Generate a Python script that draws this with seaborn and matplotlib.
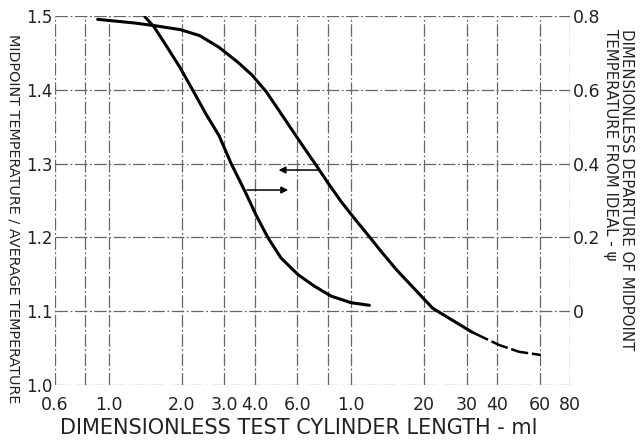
import matplotlib
matplotlib.use("Agg")
import matplotlib.pyplot as plt
import pandas as pd
import seaborn as sns

# midpoint temperature / average temperature (left axis)
ratio_x = [0.90, 1.28, 1.54, 1.97, 2.37, 2.85, 3.42, 3.9, 4.45, 4.99, 5.64, 6.41,
           7.2, 8.02, 9.09, 10.3, 11.71, 13.3, 15.4, 21.7, 31.6]
ratio_y = [1.4955, 1.4905, 1.487, 1.4816, 1.4735, 1.4576, 1.437, 1.420, 1.398,
           1.374, 1.348, 1.321, 1.297, 1.274, 1.2486, 1.226, 1.2036, 1.181,
           1.156, 1.104, 1.0715]
# faint tail of the same curve
tail_x = [31.6, 40.8, 49.3, 60.5]
tail_y = [1.0715, 1.0542, 1.045, 1.0407]

# dimensionless departure of midpoint temperature from ideal (right axis)
psi_x = [1.41, 1.54, 1.74, 1.97, 2.23, 2.52, 2.85, 3.2, 3.69, 4.05, 4.53, 5.14,
         6.04, 7.05, 8.26, 10.0, 11.9]
psi_y = [0.798, 0.770, 0.716, 0.660, 0.597, 0.534, 0.476, 0.400, 0.318, 0.261,
         0.200, 0.144, 0.099, 0.068, 0.041, 0.023, 0.016]

x_ticks = [0.6, 0.8, 1, 2, 3, 4, 6, 8, 10, 20, 30, 40, 60, 80]
x_labels = ["0.6", "", "1.0", "2.0", "3.0", "4.0", "6.0", "", "1.0",
            "20", "30", "40", "60", "80"]
left_ticks = [1.0, 1.1, 1.2, 1.3, 1.4, 1.5]
right_ticks = [0, 0.2, 0.4, 0.6, 0.8]
right_labels = ["0", "0.2", "0.4", "0.6", "0.8"]

sns.set_theme(style="white")
plt.rcParams["font.family"] = ["DejaVu Sans"]

fig = plt.figure(figsize=(6.43, 4.40), dpi=100)
ax = fig.add_axes([0.0855, 0.125, 0.801, 0.8386])
ax2 = ax.twinx()

ratio = pd.DataFrame({"x": ratio_x, "y": ratio_y})
tail = pd.DataFrame({"x": tail_x, "y": tail_y})
psi = pd.DataFrame({"x": psi_x, "y": psi_y})

line_kw = dict(color="black", sort=False, solid_joinstyle="round",
               solid_capstyle="round")
sns.lineplot(data=ratio, x="x", y="y", ax=ax, lw=2.2, **line_kw)
sns.lineplot(data=tail, x="x", y="y", ax=ax, color="black", lw=1.8, sort=False,
             linestyle=(0, (7, 1.5)))
sns.lineplot(data=psi, x="x", y="y", ax=ax2, lw=2.2, **line_kw)

for a in (ax, ax2):
    a.set_xscale("log")
    a.set_xlim(0.6, 80)
    for s in a.spines.values():
        s.set_visible(False)
    a.set_xlabel("")
    a.set_ylabel("")

ax.set_ylim(1.0, 1.5)
ax2.set_ylim(-0.2, 0.8)

ax.set_xticks(x_ticks)
ax.set_xticklabels(x_labels)
ax.minorticks_off()
ax.set_yticks(left_ticks)
ax.set_yticklabels([f"{v:.1f}" for v in left_ticks])
ax2.set_yticks(right_ticks)
ax2.set_yticklabels(right_labels)
ax2.minorticks_off()

ax.tick_params(axis="x", length=0, pad=8, labelsize=12.5, colors="#222")
ax.tick_params(axis="y", length=0, pad=2, labelsize=12, colors="#222")
ax2.tick_params(axis="y", length=0, pad=2, labelsize=12.5, colors="#222")

grid_style = dict(color="#666", lw=0.9, linestyle=(0, (10, 2, 1.5, 2)))
ax.grid(True, which="major", axis="both", **grid_style)
ax.set_axisbelow(True)

# arrows pointing each curve to its axis
ax.annotate("", xy=(5.02, 1.2913), xytext=(7.4, 1.2913),
            arrowprops=dict(arrowstyle="-|>", color="black", lw=1.1,
                            mutation_scale=10, shrinkA=0, shrinkB=0))
ax.annotate("", xy=(5.5, 1.2642), xytext=(3.72, 1.2642),
            arrowprops=dict(arrowstyle="-|>", color="black", lw=1.1,
                            mutation_scale=10, shrinkA=0, shrinkB=0))

fig.text(0.465, 0.028, "DIMENSIONLESS TEST CYLINDER LENGTH - ml",
         ha="center", va="center", fontsize=15, color="#222")
fig.text(0.021, 0.502, "MIDPOINT TEMPERATURE / AVERAGE TEMPERATURE",
         rotation=-90, ha="center", va="center", fontsize=10.4, color="#222")
fig.text(0.962, 0.935, "DIMENSIONLESS DEPARTURE OF MIDPOINT\nTEMPERATURE FROM IDEAL - ψ",
         rotation=-90, ha="center", va="top", multialignment="left",
         fontsize=10.8, color="#222", linespacing=1.15)

fig.savefig("out.png", dpi=100)
